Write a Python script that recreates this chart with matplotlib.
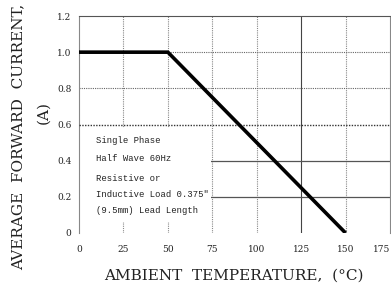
import numpy as np
import matplotlib
matplotlib.use("Agg")
import matplotlib.pyplot as plt
from matplotlib.patches import Rectangle

# derating curve
temp = [0, 50, 150]
current = [1.0, 1.0, 0.0]

xticks = [0, 25, 50, 75, 100, 125, 150, 175]
yticks = [0, 0.2, 0.4, 0.6, 0.8, 1.0, 1.2]
ytick_labels = ['0', '0.2', '0.4', '0.6', '0.8', '1.0', '1.2']

note_lines = ['Single Phase', 'Half Wave 60Hz', 'Resistive or',
              'Inductive Load 0.375"', '(9.5mm) Lead Length']
note_y = [0.51, 0.41, 0.30, 0.215, 0.127]

plt.rcParams['font.family'] = 'DejaVu Serif'

fig = plt.figure(figsize=(3.91, 2.87), dpi=100)
ax = fig.add_axes([79 / 391, 1 - 233 / 287, 311 / 391, 217 / 287])

ax.set_xlim(0, 175)
ax.set_ylim(0, 1.2)

# grid lines, drawn by hand to get the mixed styles of the scan
for xv in xticks[1:-1]:
    if xv == 125:
        ax.axvline(xv, color='#444444', lw=0.8, ls='-', zorder=1)
    else:
        ax.axvline(xv, color='#888888', lw=0.8, ls=(0, (1, 1)), zorder=1)
for yv in yticks[1:-1]:
    if yv in (0.2, 0.4):
        ax.axhline(yv, color='#555555', lw=0.9, ls='-', zorder=1)
    elif yv == 0.6:
        ax.axhline(yv, color='#333333', lw=1.0, ls=(0, (1, 1)), zorder=3)
    else:
        ax.axhline(yv, color='#666666', lw=0.8, ls=(0, (1, 1)), zorder=1)

# white box behind the note
ax.add_patch(Rectangle((0.5, 0.06), 74, 0.52, facecolor='white',
                       edgecolor='none', zorder=2))

ax.plot(temp, current, color='black', lw=2.6, solid_capstyle='butt', zorder=4)

for s, yv in zip(note_lines, note_y):
    ax.text(9.5, yv, s, fontsize=6.4, family='Liberation Mono',
            color='#222222', va='center', ha='left', zorder=3)

ax.spines['bottom'].set_visible(False)
ax.spines['top'].set_color('#555555')
ax.spines['top'].set_linewidth(0.8)
for side in ('left', 'right'):
    ax.spines[side].set_color('#888888')
    ax.spines[side].set_linestyle((0, (1, 1)))
    ax.spines[side].set_linewidth(0.8)

ax.set_xticks(xticks)
ax.set_yticks(yticks)
ax.set_yticklabels(ytick_labels)
ax.tick_params(axis='both', length=0, labelsize=6.5, colors='#222222')
ax.tick_params(axis='x', pad=9)
ax.tick_params(axis='y', pad=5.5)
ax.get_xticklabels()[-1].set_horizontalalignment('right')

fig.text(234 / 391, 1 - 276 / 287, 'AMBIENT  TEMPERATURE,  (°C)', fontsize=11,
         ha='center', va='center', color='#222222')
fig.text(18 / 391, 1 - 137 / 287, 'AVERAGE  FORWARD  CURRENT,', fontsize=11,
         rotation=90, ha='center', va='center', color='#222222')
fig.text(43 / 391, 1 - 113 / 287, '(A)', fontsize=11, rotation=90,
         ha='center', va='center', color='#222222')

fig.savefig('out.png', dpi=100)
